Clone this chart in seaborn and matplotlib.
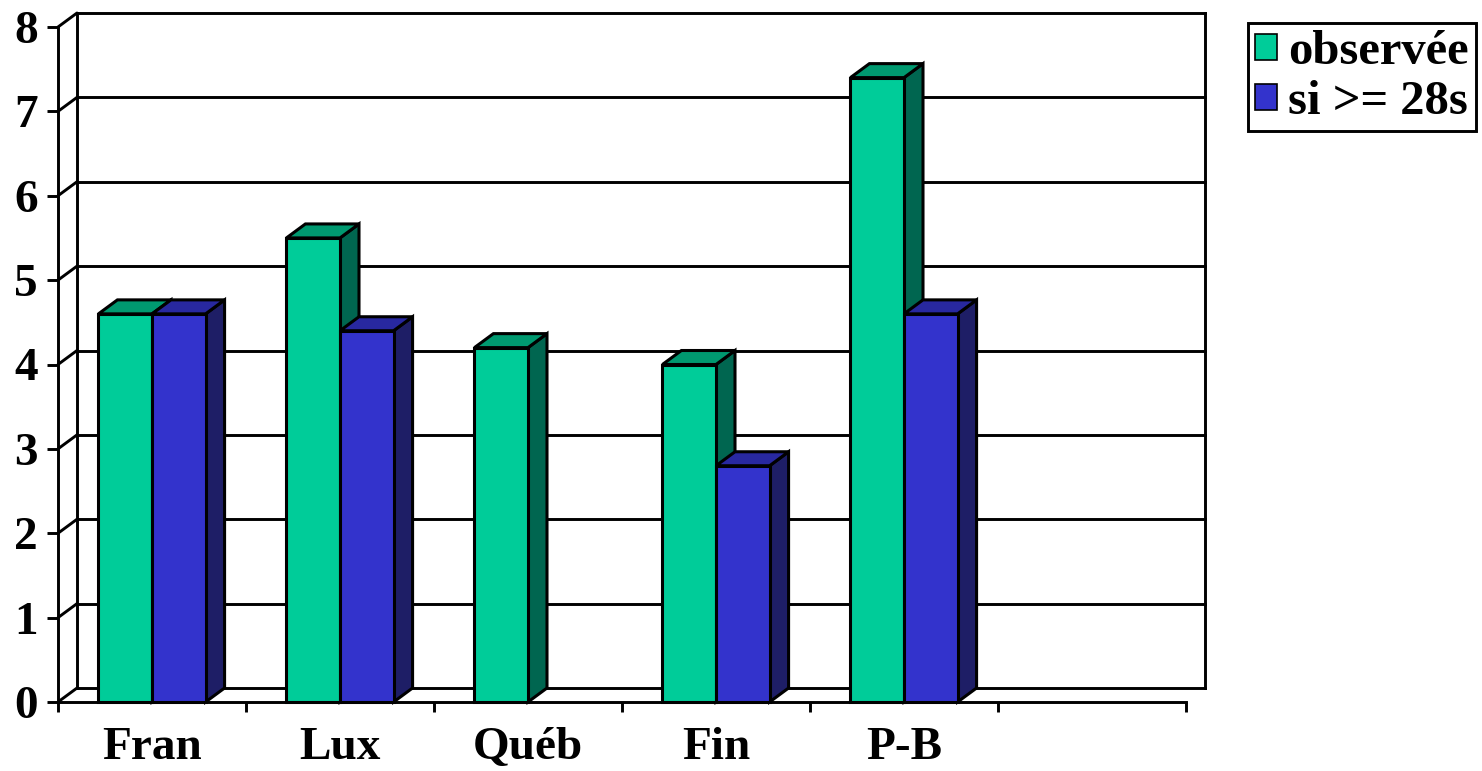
import numpy as np
import pandas as pd
import seaborn as sns
import matplotlib.pyplot as plt
import matplotlib.transforms as mtransforms
from matplotlib.colors import to_rgba
from matplotlib.patches import Polygon, Patch

# --- data -------------------------------------------------------------
categories = ["Fran", "Lux", "Québ", "Fin", "P-B"]
observee = [4.6, 5.5, 4.2, 4.0, 7.4]
si_28s = [4.6, 4.4, np.nan, 2.8, 4.6]
series_names = ["observée", "si >= 28s"]
y_ticks = list(range(0, 9))
n_slots = 6  # one empty slot on the right of the category axis

# --- styling ----------------------------------------------------------
front_colors = {"observée": "#00CC99", "si >= 28s": "#3333CC"}
top_colors = {"observée": "#009970", "si >= 28s": "#2828A0"}
side_colors = {"observée": "#006650", "si >= 28s": "#1E1E66"}
depth_px = (19, 14)  # oblique depth of the 3D effect, in pixels
font_size = 34
line_w = 2.1
edge_w = 2.2

sns.set_theme(style="ticks")
plt.rcParams["font.family"] = ["Liberation Serif", "DejaVu Serif"]
plt.rcParams["font.weight"] = "bold"
for key in ("text.color", "axes.labelcolor", "xtick.color", "ytick.color",
            "axes.edgecolor"):
    plt.rcParams[key] = "black"

df = pd.DataFrame({
    "pays": categories * 2,
    "série": [series_names[0]] * len(categories) + [series_names[1]] * len(categories),
    "valeur": observee + si_28s,
}).dropna()

W, H = 1482, 771
fig = plt.figure(figsize=(W / 100, H / 100), dpi=100)
ax = fig.add_axes([58 / W, 69 / H, 1128 / W, 675 / H])

sns.barplot(data=df, x="pays", y="valeur", hue="série", order=categories,
            hue_order=series_names, palette=front_colors, saturation=1,
            width=0.57, errorbar=None, edgecolor="black", linewidth=edge_w,
            legend=False, ax=ax)

ax.set_xlim(-0.5, n_slots - 0.5)
ax.set_ylim(y_ticks[0], y_ticks[-1])
ax.set_xlabel("")
ax.set_ylabel("")

# depth offset in data units, derived from the axes scale
bbox = ax.get_window_extent()
dx = depth_px[0] * n_slots / bbox.width
dy = depth_px[1] * (y_ticks[-1] - y_ticks[0]) / bbox.height
back = ax.transData + mtransforms.ScaledTranslation(
    depth_px[0] / 100, depth_px[1] / 100, fig.dpi_scale_trans)

x0, x1 = -0.5, n_slots - 0.5
# back wall gridlines and edges
for y in y_ticks:
    ax.plot([x0, x1], [y, y], transform=back, color="black", lw=line_w,
            zorder=0.5, clip_on=False, solid_capstyle="projecting")
    ax.plot([x0, x0 + dx], [y, y + dy], color="black", lw=line_w,
            zorder=0.5, clip_on=False)
for xe in (x0, x1):
    ax.plot([xe, xe], [y_ticks[0], y_ticks[-1]], transform=back,
            color="black", lw=line_w, zorder=0.5, clip_on=False,
            solid_capstyle="projecting")

# 3D top and side faces for each bar, drawn left to right
bars = [p for p in ax.patches if np.isfinite(p.get_height()) and p.get_height() > 0]
bars.sort(key=lambda p: p.get_x())
for i, p in enumerate(bars):
    bx, bw, bh = p.get_x(), p.get_width(), p.get_height()
    fc = np.array(p.get_facecolor())
    name = min(series_names,
               key=lambda s: np.abs(np.array(to_rgba(front_colors[s])) - fc).sum())
    z = 2 + i * 0.1
    top = Polygon([(bx, bh), (bx + bw, bh), (bx + bw + dx, bh + dy), (bx + dx, bh + dy)],
                  closed=True, facecolor=top_colors[name], edgecolor="black",
                  lw=edge_w, zorder=z, clip_on=False, joinstyle="miter")
    side = Polygon([(bx + bw, 0), (bx + bw + dx, dy), (bx + bw + dx, bh + dy), (bx + bw, bh)],
                   closed=True, facecolor=side_colors[name], edgecolor="black",
                   lw=edge_w, zorder=z, clip_on=False, joinstyle="miter")
    ax.add_patch(side)
    ax.add_patch(top)
    p.set_zorder(z + 0.05)
    p.set_clip_on(False)

# axes, ticks and labels
sns.despine(ax=ax, top=True, right=True)
for s in ("left", "bottom"):
    ax.spines[s].set_linewidth(line_w)
    ax.spines[s].set_color("black")
    ax.spines[s].set_zorder(1)
ax.set_yticks(y_ticks)
ax.set_yticklabels([str(t) for t in y_ticks])
ax.set_xticks(range(len(categories)))
ax.set_xticklabels(categories)
ax.set_xticks(np.arange(x0, x1 + 0.01, 1), minor=True)
ax.tick_params(axis="y", length=8, width=line_w, pad=6.5, labelsize=font_size,
               left=True, colors="black")
ax.tick_params(axis="x", which="major", length=0, pad=18, labelsize=font_size,
               bottom=True, colors="black")
ax.tick_params(axis="x", which="minor", length=7.5, width=line_w, bottom=True,
               color="black")
for lab in ax.get_xticklabels() + ax.get_yticklabels():
    lab.set_fontweight("bold")
    lab.set_color("black")

handles = [Patch(facecolor=front_colors[s], edgecolor="black", linewidth=1.2)
           for s in series_names]
leg = fig.legend(handles, series_names, loc="upper left",
                 bbox_to_anchor=(1248 / W, 1 - 23 / H), bbox_transform=fig.transFigure,
                 frameon=True, fancybox=False, edgecolor="black", framealpha=1,
                 borderaxespad=0, borderpad=0.15, handlelength=0.45,
                 handleheight=0.45, handletextpad=0.22, labelspacing=0.12,
                 prop={"family": "Liberation Serif", "weight": "bold", "size": 35})
leg.get_frame().set_linewidth(line_w)
for t in leg.get_texts():
    t.set_color("black")

fig.savefig("out.png", dpi=100)
